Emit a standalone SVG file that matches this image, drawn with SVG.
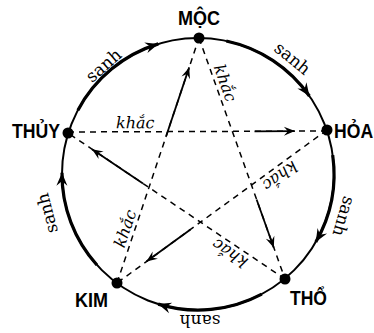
<svg xmlns="http://www.w3.org/2000/svg" width="374" height="333" viewBox="0 0 374 333">
<style>
.ring{fill:none;stroke:#000;stroke-width:2}
.thick{fill:none;stroke:#000;stroke-width:3.2}
.dash{fill:none;stroke:#000;stroke-width:1.5;stroke-dasharray:6 5;stroke-linecap:butt}
.solid{fill:none;stroke:#000;stroke-width:1.8}
.dot{fill:#000}
.nl{font-family:"Liberation Sans",Arial,sans-serif;font-weight:bold;font-size:20px;fill:#000}
.sanh{font-family:"DejaVu Serif","Liberation Serif",serif;font-size:17px;fill:#000;text-anchor:middle}
.khac{font-family:"DejaVu Serif","Liberation Serif",serif;font-style:italic;font-size:16px;fill:#000;text-anchor:middle}
</style>
<defs>
<marker id="big" markerUnits="userSpaceOnUse" markerWidth="16" markerHeight="14" viewBox="-14 -7 16 14" refX="0" refY="0" orient="auto">
<path d="M0,0 L-13,-5.5 L-8.5,0 L-13,5.5 Z" fill="#000"/>
</marker>
<marker id="small" markerUnits="userSpaceOnUse" markerWidth="14" markerHeight="12" viewBox="-12 -6 14 12" refX="0" refY="0" orient="auto">
<path d="M0,0 L-11,-4.5 L-7,0 L-11,4.5 Z" fill="#000"/>
</marker>
</defs>
<circle class="ring" cx="198" cy="174" r="136"/>
<g id="connectors">
<line class="dash" x1="68" y1="132" x2="327" y2="131"/>
<line class="dash" x1="199" y1="38" x2="285" y2="279"/>
<line class="dash" x1="327" y1="130" x2="117" y2="283"/>
<line class="dash" x1="117" y1="283" x2="199" y2="38"/>
<line class="dash" x1="285" y1="279" x2="68" y2="133"/>
<line class="solid" x1="254.5" y1="131.3" x2="294.9" y2="131.1" marker-end="url(#small)"/>
<line class="solid" x1="256.6" y1="199.5" x2="273.8" y2="247.7" marker-end="url(#small)"/>
<line class="solid" x1="190.5" y1="229.5" x2="146.4" y2="261.6" marker-end="url(#small)"/>
<line class="solid" x1="166.2" y1="136" x2="189.2" y2="67.4" marker-end="url(#small)"/>
<line class="solid" x1="143" y1="183.5" x2="92" y2="149.2" marker-end="url(#small)"/>
<path class="thick" d="M77.9,110.2 A136,136 0 0 1 158.3,43.9" marker-end="url(#big)"/>
<path class="thick" d="M226.3,41 A136,136 0 0 1 309.4,96" marker-end="url(#big)"/>
<path class="thick" d="M332.7,155.1 A136,136 0 0 1 315.8,242" marker-end="url(#big)"/>
<path class="thick" d="M261.8,294.1 A136,136 0 0 1 158.2,304.1" marker-end="url(#big)"/>
<path class="thick" d="M96.9,265 A136,136 0 0 1 62,172.8" marker-end="url(#big)"/>
<text class="sanh" transform="translate(107.5,69.8) rotate(-41)">sanh</text>
<text class="sanh" transform="translate(288.8,62.9) rotate(39.3)">sanh</text>
<text class="sanh" transform="translate(338.2,214.7) rotate(106.2)">sanh</text>
<text class="sanh" transform="translate(200,315) rotate(180)">sanh</text>
<text class="sanh" transform="translate(52.8,211.8) rotate(255.4)">sanh</text>
<text class="khac" transform="translate(135.3,128.2) rotate(-0.3)">khắc</text>
<text class="khac" transform="translate(220,84.9) rotate(70.4)">khắc</text>
<text class="khac" transform="translate(276.9,171.5) rotate(143.9)">khắc</text>
<text class="khac" transform="translate(130.4,230.2) rotate(-71.5)">khắc</text>
<text class="khac" transform="translate(232.9,248.7) rotate(213.9)">khắc</text>
</g>
<g id="moc"><circle class="dot" cx="199" cy="38" r="5.5"/><text class="nl" x="178" y="25" textLength="42" lengthAdjust="spacingAndGlyphs">MỘC</text></g>
<g id="hoa"><circle class="dot" cx="327" cy="130" r="5.5"/><text class="nl" transform="translate(334,138) scale(0.88,1)" font-size="19">HỎA</text></g>
<g id="tho"><circle class="dot" cx="285" cy="279" r="5.5"/><text class="nl" x="290" y="305" textLength="37" lengthAdjust="spacingAndGlyphs">THỔ</text></g>
<g id="kim"><circle class="dot" cx="117" cy="283" r="5.5"/><text class="nl" x="75" y="307" textLength="33" lengthAdjust="spacingAndGlyphs">KIM</text></g>
<g id="thuy"><circle class="dot" cx="68" cy="133" r="5.5"/><text class="nl" x="12" y="138" textLength="48" lengthAdjust="spacingAndGlyphs">THỦY</text></g>
</svg>
